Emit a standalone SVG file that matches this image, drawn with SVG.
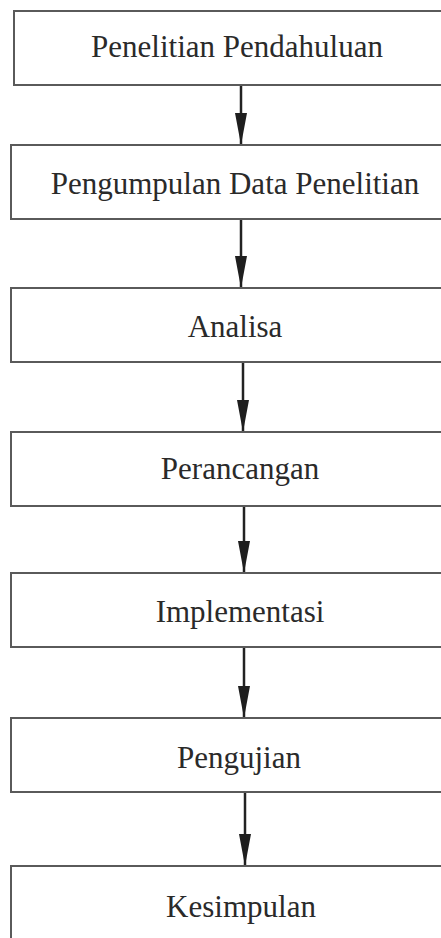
<svg xmlns="http://www.w3.org/2000/svg" width="441" height="938" viewBox="0 0 441 938">
  <style>
    .box { fill: #ffffff; stroke: #5a5a5a; stroke-width: 2; }
    .label { font-family: "Liberation Serif", "Times New Roman", serif; font-size: 31px; fill: #2a2a2a; text-anchor: middle; }
    .edge { stroke: #222222; stroke-width: 2.5; fill: none; }
  </style>
  <defs>
    <!-- long narrow arrowhead, drawn along +x and rotated by orient -->
    <marker id="arrow" viewBox="0 0 32 12" refX="32" refY="6" markerWidth="32" markerHeight="12" markerUnits="userSpaceOnUse" orient="auto">
      <path d="M0,0 L32,6 L0,12 Z" fill="#1e1e1e"/>
    </marker>
  </defs>
  <rect width="441" height="938" fill="#ffffff"/>

  <g id="connectors">
    <line class="edge" x1="241" y1="86" x2="241" y2="145" marker-end="url(#arrow)"/>
    <line class="edge" x1="241" y1="220" x2="241" y2="288" marker-end="url(#arrow)"/>
    <line class="edge" x1="243" y1="363" x2="243" y2="432" marker-end="url(#arrow)"/>
    <line class="edge" x1="244" y1="507" x2="244" y2="573" marker-end="url(#arrow)"/>
    <line class="edge" x1="244" y1="648" x2="244" y2="718" marker-end="url(#arrow)"/>
    <line class="edge" x1="245" y1="793" x2="245" y2="866" marker-end="url(#arrow)"/>
  </g>

  <g id="penelitian-pendahuluan">
    <rect class="box" x="14" y="11" width="434" height="74"/>
    <text class="label" x="237" y="57">Penelitian Pendahuluan</text>
  </g>
  <g id="pengumpulan-data">
    <rect class="box" x="11" y="145" width="437" height="74"/>
    <text class="label" x="235" y="194">Pengumpulan Data Penelitian</text>
  </g>
  <g id="analisa">
    <rect class="box" x="11" y="288" width="437" height="74"/>
    <text class="label" x="235" y="337">Analisa</text>
  </g>
  <g id="perancangan">
    <rect class="box" x="11" y="432" width="437" height="74"/>
    <text class="label" x="240" y="479">Perancangan</text>
  </g>
  <g id="implementasi">
    <rect class="box" x="11" y="573" width="437" height="74"/>
    <text class="label" x="240" y="622">Implementasi</text>
  </g>
  <g id="pengujian">
    <rect class="box" x="11" y="718" width="437" height="74"/>
    <text class="label" x="239" y="768">Pengujian</text>
  </g>
  <g id="kesimpulan">
    <rect class="box" x="11" y="866" width="437" height="90"/>
    <text class="label" x="241" y="917">Kesimpulan</text>
  </g>
</svg>
